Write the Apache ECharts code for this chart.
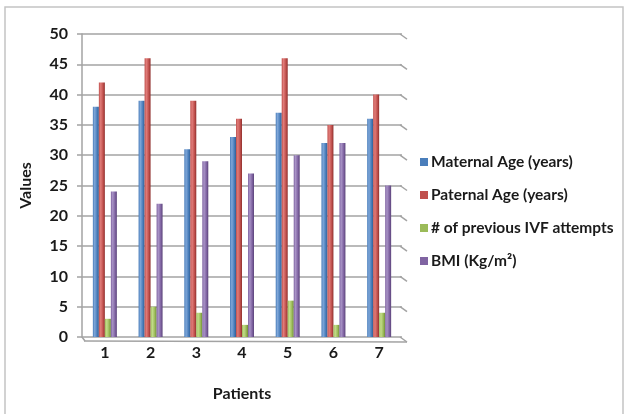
<!DOCTYPE html>
<html>
<head>
<meta charset="utf-8">
<script src="https://cdn.jsdelivr.net/npm/echarts@6/dist/echarts.min.js"></script>
<style>
  html, body { margin: 0; padding: 0; background: #fff; }
  #chart { width: 624px; height: 414px; }
</style>
</head>
<body>
<div id="chart"></div>
<script>
// Patient data
const patients = ['1', '2', '3', '4', '5', '6', '7'];
const maternalAge = [38, 39, 31, 33, 37, 32, 36];
const paternalAge = [42, 46, 39, 36, 46, 35, 40];
const ivfAttempts = [3, 5, 4, 2, 6, 2, 4];
const bmi = [24, 22, 29, 27, 30, 32, 25];
const yTicks = [0, 5, 10, 15, 20, 25, 30, 35, 40, 45, 50];

const seriesNames = ['Maternal Age (years)', 'Paternal Age (years)', '# of previous IVF attempts', 'BMI (Kg/m²)'];
const seriesColors = [
  ['#7ea6d8', '#4a7ebb', '#2f5f96'],
  ['#e07c79', '#c0504d', '#8f2f2c'],
  ['#c3dc8a', '#9bbb59', '#6f8c36'],
  ['#a893c6', '#8064a2', '#5a4379']
];
const seriesValues = [maternalAge, paternalAge, ivfAttempts, bmi];

const FONT = 'Lato, "Liberation Sans", sans-serif';
const TEXT_COLOR = '#1a1a1a';
const GRID_COLOR = '#a3a3a3';

function barGradient(c) {
  return new echarts.graphic.LinearGradient(0, 0, 1, 0, [
    { offset: 0, color: c[1] },
    { offset: 0.3, color: c[0] },
    { offset: 0.7, color: c[1] },
    { offset: 1, color: c[2] }
  ]);
}

const barSeries = seriesNames.map((name, i) => ({
  name: name,
  type: 'bar',
  data: seriesValues[i],
  barWidth: 6,
  barGap: '0%',
  itemStyle: { color: barGradient(seriesColors[i]) },
  z: 3
}));

// Perspective edges: short diagonals at the right end of each gridline and the front floor edge
const depthSeries = {
  type: 'custom',
  name: 'depth',
  silent: true,
  data: yTicks.map(v => [0, v]),
  renderItem: function (params, api) {
    const cs = params.coordSys;
    const y = api.coord([0, api.value(1)])[1];
    const right = cs.x + cs.width;
    const children = [{
      type: 'line',
      shape: { x1: right - 2, y1: y, x2: right + 5, y2: y + 5 },
      style: { stroke: GRID_COLOR, lineWidth: 1.5 }
    }];
    if (api.value(1) === 0) {
      children.push({
        type: 'line',
        shape: { x1: cs.x + 2, y1: y + 4, x2: right + 5, y2: y + 5 },
        style: { stroke: GRID_COLOR, lineWidth: 1.5 }
      });
      children.push({
        type: 'line',
        shape: { x1: cs.x, y1: y, x2: cs.x + 3, y2: y + 4 },
        style: { stroke: GRID_COLOR, lineWidth: 1.5 }
      });
    }
    return { type: 'group', children: children };
  },
  z: 1
};

const chart = echarts.init(document.getElementById('chart'), null, { renderer: 'canvas' });
chart.setOption({
  animation: false,
  backgroundColor: '#fff',
  graphic: [{
    type: 'rect',
    shape: { x: 5, y: 7, width: 618, height: 420 },
    style: { fill: 'none', stroke: '#c4c4c4', lineWidth: 1.5 },
    silent: true
  }],
  grid: { left: 82, right: 222, top: 34, bottom: 77, containLabel: false },
  legend: {
    data: seriesNames.map((name, i) => ({ name: name, itemStyle: { color: seriesColors[i][1] } })),
    orient: 'vertical',
    left: 415,
    top: 149,
    itemWidth: 8,
    itemHeight: 8,
    itemGap: 17,
    icon: 'rect',
    textStyle: { fontFamily: FONT, fontWeight: 'bold', fontSize: 15.5, color: TEXT_COLOR, padding: [0, 0, 0, -2] }
  },
  xAxis: {
    type: 'category',
    data: patients,
    name: 'Patients',
    nameLocation: 'middle',
    nameGap: 49,
    nameTextStyle: { fontFamily: FONT, fontWeight: 'bold', fontSize: 16, color: TEXT_COLOR },
    axisLine: { show: false },
    axisTick: { show: false },
    axisLabel: { fontFamily: FONT, fontWeight: 'bold', fontSize: 16, color: TEXT_COLOR, margin: 8 }
  },
  yAxis: {
    type: 'value',
    min: 0,
    max: 50,
    interval: 5,
    name: 'Values',
    nameLocation: 'middle',
    nameGap: 48,
    nameTextStyle: { fontFamily: FONT, fontWeight: 'bold', fontSize: 16, color: TEXT_COLOR },
    axisLine: { show: true, lineStyle: { color: GRID_COLOR, width: 1.5 } },
    axisTick: { show: true, length: 5, lineStyle: { color: GRID_COLOR, width: 1.5 } },
    axisLabel: { fontFamily: FONT, fontWeight: 'bold', fontSize: 16, color: TEXT_COLOR, margin: 14 },
    splitLine: { show: true, lineStyle: { color: GRID_COLOR, width: 1.5 } }
  },
  series: barSeries.concat([depthSeries])
});
</script>
</body>
</html>
